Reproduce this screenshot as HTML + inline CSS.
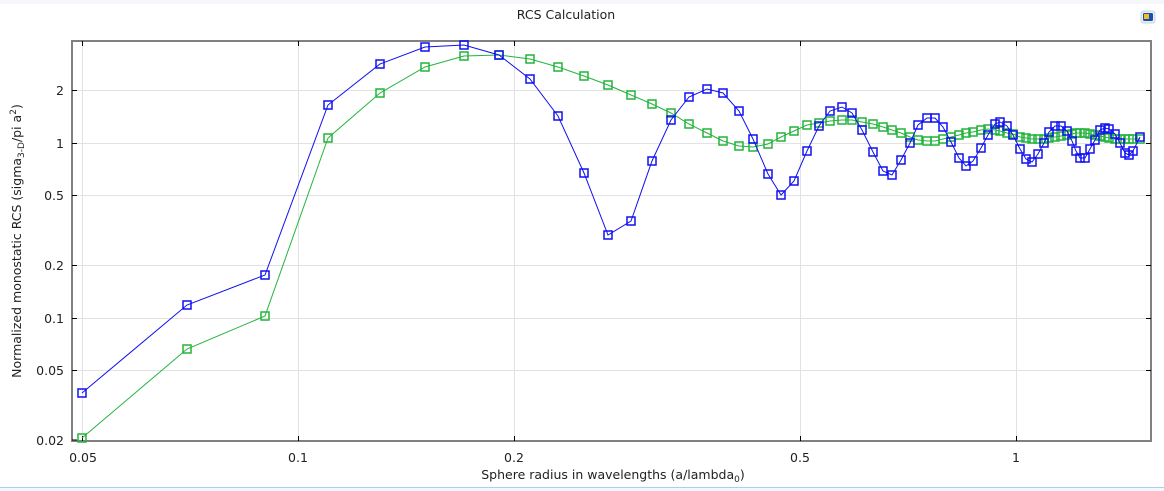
<!DOCTYPE html>
<html><head><meta charset="utf-8"><style>
html,body{margin:0;padding:0;background:#fff;}
svg{display:block;font-family:"DejaVu Sans","Liberation Sans",sans-serif;}
</style></head><body>
<svg width="1164" height="491" viewBox="0 0 1164 491" xmlns="http://www.w3.org/2000/svg">
<defs>
<marker id="mb" markerWidth="10" markerHeight="10" refX="5" refY="5" markerUnits="userSpaceOnUse"><rect x="1" y="1" width="8" height="8" fill="none" stroke="#1010f0" stroke-width="1.5"/></marker>
<marker id="mg" markerWidth="10" markerHeight="10" refX="5" refY="5" markerUnits="userSpaceOnUse"><rect x="1" y="1" width="8" height="8" fill="none" stroke="#22b43c" stroke-width="1.5"/></marker>
</defs>
<rect x="0" y="0" width="1164" height="4" fill="#f5f7fb"/>
<rect x="0" y="487" width="1164" height="4" fill="#f4f8fc"/>
<line x1="0" y1="487.5" x2="1164" y2="487.5" stroke="#a8d0f0" stroke-width="1"/>
<text x="566" y="19" font-size="12.5" text-anchor="middle" fill="#222">RCS Calculation</text>
<g transform="translate(1148,17)">
<rect x="-7" y="-6" width="14" height="12" rx="3" fill="#e8eef4" stroke="#c8d4e0"/>
<rect x="-5" y="-4" width="10" height="8" rx="1.5" fill="#1a4fb0"/>
<rect x="-4" y="-3" width="5" height="5" fill="#f0c020"/>
</g>
<g stroke="#e2e2e2" stroke-width="1">
<line x1="82.5" y1="41" x2="82.5" y2="441"/>
<line x1="298.5" y1="41" x2="298.5" y2="441"/>
<line x1="514.5" y1="41" x2="514.5" y2="441"/>
<line x1="800.5" y1="41" x2="800.5" y2="441"/>
<line x1="1016.5" y1="41" x2="1016.5" y2="441"/>
<line x1="72" y1="90.5" x2="1151" y2="90.5"/>
<line x1="72" y1="143.5" x2="1151" y2="143.5"/>
<line x1="72" y1="195.5" x2="1151" y2="195.5"/>
<line x1="72" y1="265.5" x2="1151" y2="265.5"/>
<line x1="72" y1="318.5" x2="1151" y2="318.5"/>
<line x1="72" y1="370.5" x2="1151" y2="370.5"/>
</g>
<rect x="72" y="41" width="1079" height="400" fill="none" stroke="#808080" stroke-width="2"/>
<g stroke="#000" stroke-width="1">
<line x1="82.5" y1="41" x2="82.5" y2="46"/><line x1="82.5" y1="441" x2="82.5" y2="436"/>
<line x1="298.5" y1="41" x2="298.5" y2="46"/><line x1="298.5" y1="441" x2="298.5" y2="436"/>
<line x1="514.5" y1="41" x2="514.5" y2="46"/><line x1="514.5" y1="441" x2="514.5" y2="436"/>
<line x1="800.5" y1="41" x2="800.5" y2="46"/><line x1="800.5" y1="441" x2="800.5" y2="436"/>
<line x1="1016.5" y1="41" x2="1016.5" y2="46"/><line x1="1016.5" y1="441" x2="1016.5" y2="436"/>
<line x1="72" y1="90.5" x2="77" y2="90.5"/><line x1="1151" y1="90.5" x2="1146" y2="90.5"/>
<line x1="72" y1="143.5" x2="77" y2="143.5"/><line x1="1151" y1="143.5" x2="1146" y2="143.5"/>
<line x1="72" y1="195.5" x2="77" y2="195.5"/><line x1="1151" y1="195.5" x2="1146" y2="195.5"/>
<line x1="72" y1="265.5" x2="77" y2="265.5"/><line x1="1151" y1="265.5" x2="1146" y2="265.5"/>
<line x1="72" y1="318.5" x2="77" y2="318.5"/><line x1="1151" y1="318.5" x2="1146" y2="318.5"/>
<line x1="72" y1="370.5" x2="77" y2="370.5"/><line x1="1151" y1="370.5" x2="1146" y2="370.5"/>
<line x1="72" y1="440" x2="77" y2="440"/>
</g>
<g font-size="12.5" fill="#222" text-anchor="end">
<text x="64" y="95">2</text>
<text x="64" y="148">1</text>
<text x="64" y="200">0.5</text>
<text x="64" y="270">0.2</text>
<text x="64" y="323">0.1</text>
<text x="64" y="375">0.05</text>
<text x="64" y="445">0.02</text>
</g>
<g font-size="12.5" fill="#222" text-anchor="middle">
<text x="83" y="462">0.05</text>
<text x="298" y="462">0.1</text>
<text x="514" y="462">0.2</text>
<text x="800" y="462">0.5</text>
<text x="1016" y="462">1</text>
<text x="613" y="479">Sphere radius in wavelengths (a/lambda<tspan font-size="9" dy="3">0</tspan><tspan dy="-3">)</tspan></text>
</g>
<text transform="translate(21,241) rotate(-90)" font-size="12.5" fill="#222" text-anchor="middle">Normalized monostatic RCS (sigma<tspan font-size="9" dy="3">3-D</tspan><tspan dy="-3">/pi a</tspan><tspan font-size="9" dy="-5">2</tspan><tspan dy="5">)</tspan></text>
<polyline fill="none" stroke="#22b43c" stroke-width="1" marker-start="url(#mg)" marker-mid="url(#mg)" marker-end="url(#mg)" points="82,438 187,349 265,316 328,138 380,93 425,67 464,56 499,55 530,59 558,67 584,76 608,85 631,95 652,104 671,113 689,124 707,133 723,141 739,146 753,147 768,144 781,137 794,131 807,125 819,123 830,121 842,120 852,120 862,122 873,124 883,127 892,130 901,133 910,137 918,140 927,141 935,141 943,139 951,137 959,135 966,133 973,132 981,130 988,129 995,130 1000,131 1007,133 1013,134 1020,137 1026,138 1032,139 1038,139 1044,139 1049,138 1055,137 1061,136 1067,135 1072,134 1076,133 1080,133 1085,133 1090,134 1095,135 1100,136 1105,137 1109,138 1115,139 1120,139 1125,139 1129,139 1133,139 1140,139"/>
<polyline fill="none" stroke="#1010f0" stroke-width="1" marker-start="url(#mb)" marker-mid="url(#mb)" marker-end="url(#mb)" points="82,393 187,305 265,275 328,105 380,64 425,47 464,45 499,55 530,79 558,116 584,173 608,235 631,221 652,161 671,120 689,97 707,89 723,93 739,111 753,139 768,174 781,195 794,181 807,151 819,126 830,111 842,107 852,113 862,130 873,152 883,171 892,175 901,160 910,143 918,125 927,118 935,118 943,127 951,142 959,158 966,166 973,161 981,148 988,135 995,124 1000,122 1007,126 1013,135 1020,149 1026,159 1032,162 1038,154 1044,143 1049,132 1055,126 1061,126 1067,131 1072,141 1076,151 1080,158 1085,158 1090,149 1095,140 1100,130 1105,128 1109,129 1115,134 1120,143 1125,153 1129,155 1133,151 1140,137"/>
</svg>
</body></html>
